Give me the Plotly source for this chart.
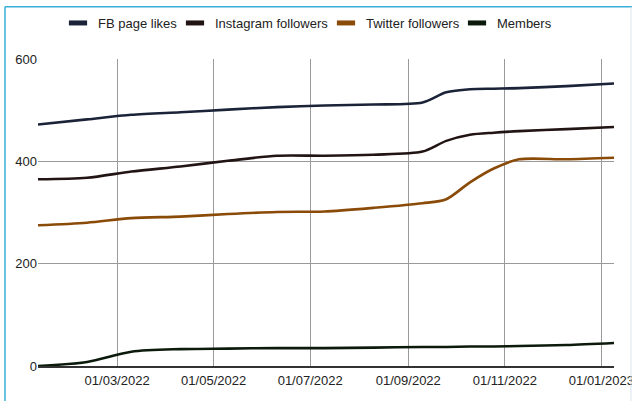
import plotly.graph_objects as go

dates = ["2022-01-10", "2022-02-10", "2022-03-10", "2022-04-10", "2022-05-10",
         "2022-06-10", "2022-07-10", "2022-08-10", "2022-09-10", "2022-09-25",
         "2022-10-10", "2022-10-25", "2022-11-10", "2022-12-10", "2023-01-09"]

fb_likes = [472, 482, 491, 496, 501, 506, 509, 511, 515, 535, 541, 542, 543, 547, 552]
instagram = [365, 368, 380, 390, 401, 411, 411, 413, 419, 440, 452, 456, 459, 463, 467]
twitter = [275, 280, 289, 292, 297, 301, 302, 309, 318, 326, 359, 386, 404, 404, 407]
members = [0, 8, 28, 33, 34, 35, 35, 36, 37, 37, 38, 38, 39, 41, 45]

series_names = ["FB page likes", "Instagram followers", "Twitter followers", "Members"]
series_values = [fb_likes, instagram, twitter, members]
colors = ["#1b2338", "#231414", "#8a4a08", "#0c1a0c"]

y_ticks = [0, 200, 400, 600]

W, H = 632, 401
legend_ids = ["legend", "legend2", "legend3", "legend4"]
legend_left_px = [58, 175, 326, 457]

fig = go.Figure()
for name, vals, col in zip(series_names, series_values, colors):
    fig.add_trace(go.Scatter(
        x=dates, y=vals, mode="lines", name=name, showlegend=False,
        line=dict(color=col, width=2.6, shape="spline", smoothing=0.8),
        hoverinfo="skip"))
for name, col, lid in zip(series_names, colors, legend_ids):
    fig.add_trace(go.Scatter(
        x=[None], y=[None], mode="markers", name=name, legend=lid,
        marker=dict(symbol="line-ew", size=13, line=dict(color=col, width=5))))

legend_layout = {}
for lid, px in zip(legend_ids, legend_left_px):
    legend_layout[lid] = dict(
        xref="container", yref="container", x=px / W, xanchor="left",
        y=1 - 23 / H, yanchor="middle", orientation="h", itemwidth=30,
        font=dict(size=13, color="#222"), bgcolor="rgba(0,0,0,0)", borderwidth=0)

fig.update_layout(
    width=W, height=H,
    margin=dict(l=38, r=18, t=59, b=35, autoexpand=False),
    paper_bgcolor="white", plot_bgcolor="white",
    font=dict(family="Liberation Sans, Arial, sans-serif", size=13, color="#222"),
    xaxis=dict(type="date", range=["2022-01-10", "2023-01-09"],
               tick0="2022-01-01", dtick="M2", tickformat="%d/%m/%Y",
               showgrid=True, gridcolor="#9a9a9a", gridwidth=1,
               showline=True, linecolor="#333", linewidth=1.5,
               ticks="", ticklabelstandoff=2, zeroline=False,
               automargin=False, ticklabeloverflow="allow"),
    yaxis=dict(range=[0, 600], tickvals=y_ticks, showgrid=True,
               gridcolor="#9a9a9a", gridwidth=1, zeroline=False,
               ticks="", showline=False, automargin=False),
    shapes=[
        dict(type="line", xref="paper", yref="paper", x0=-0.0573, x1=-0.0573,
             y0=1.17, y1=-0.2, line=dict(color="#3aaed8", width=1.5)),
        dict(type="line", xref="paper", yref="paper", x0=-0.0573, x1=1.05,
             y0=1.17, y1=1.17, line=dict(color="#3aaed8", width=1.5)),
        dict(type="line", xref="paper", yref="paper", x0=1.0295, x1=1.0295,
             y0=1.17, y1=-0.2, line=dict(color="#d8e4ea", width=1)),
    ],
    **legend_layout,
)

fig.write_html("out.html",
               config={"displayModeBar": False},
               post_script="document.body.style.margin='0px';"
                           "document.body.style.overflow='hidden';")
